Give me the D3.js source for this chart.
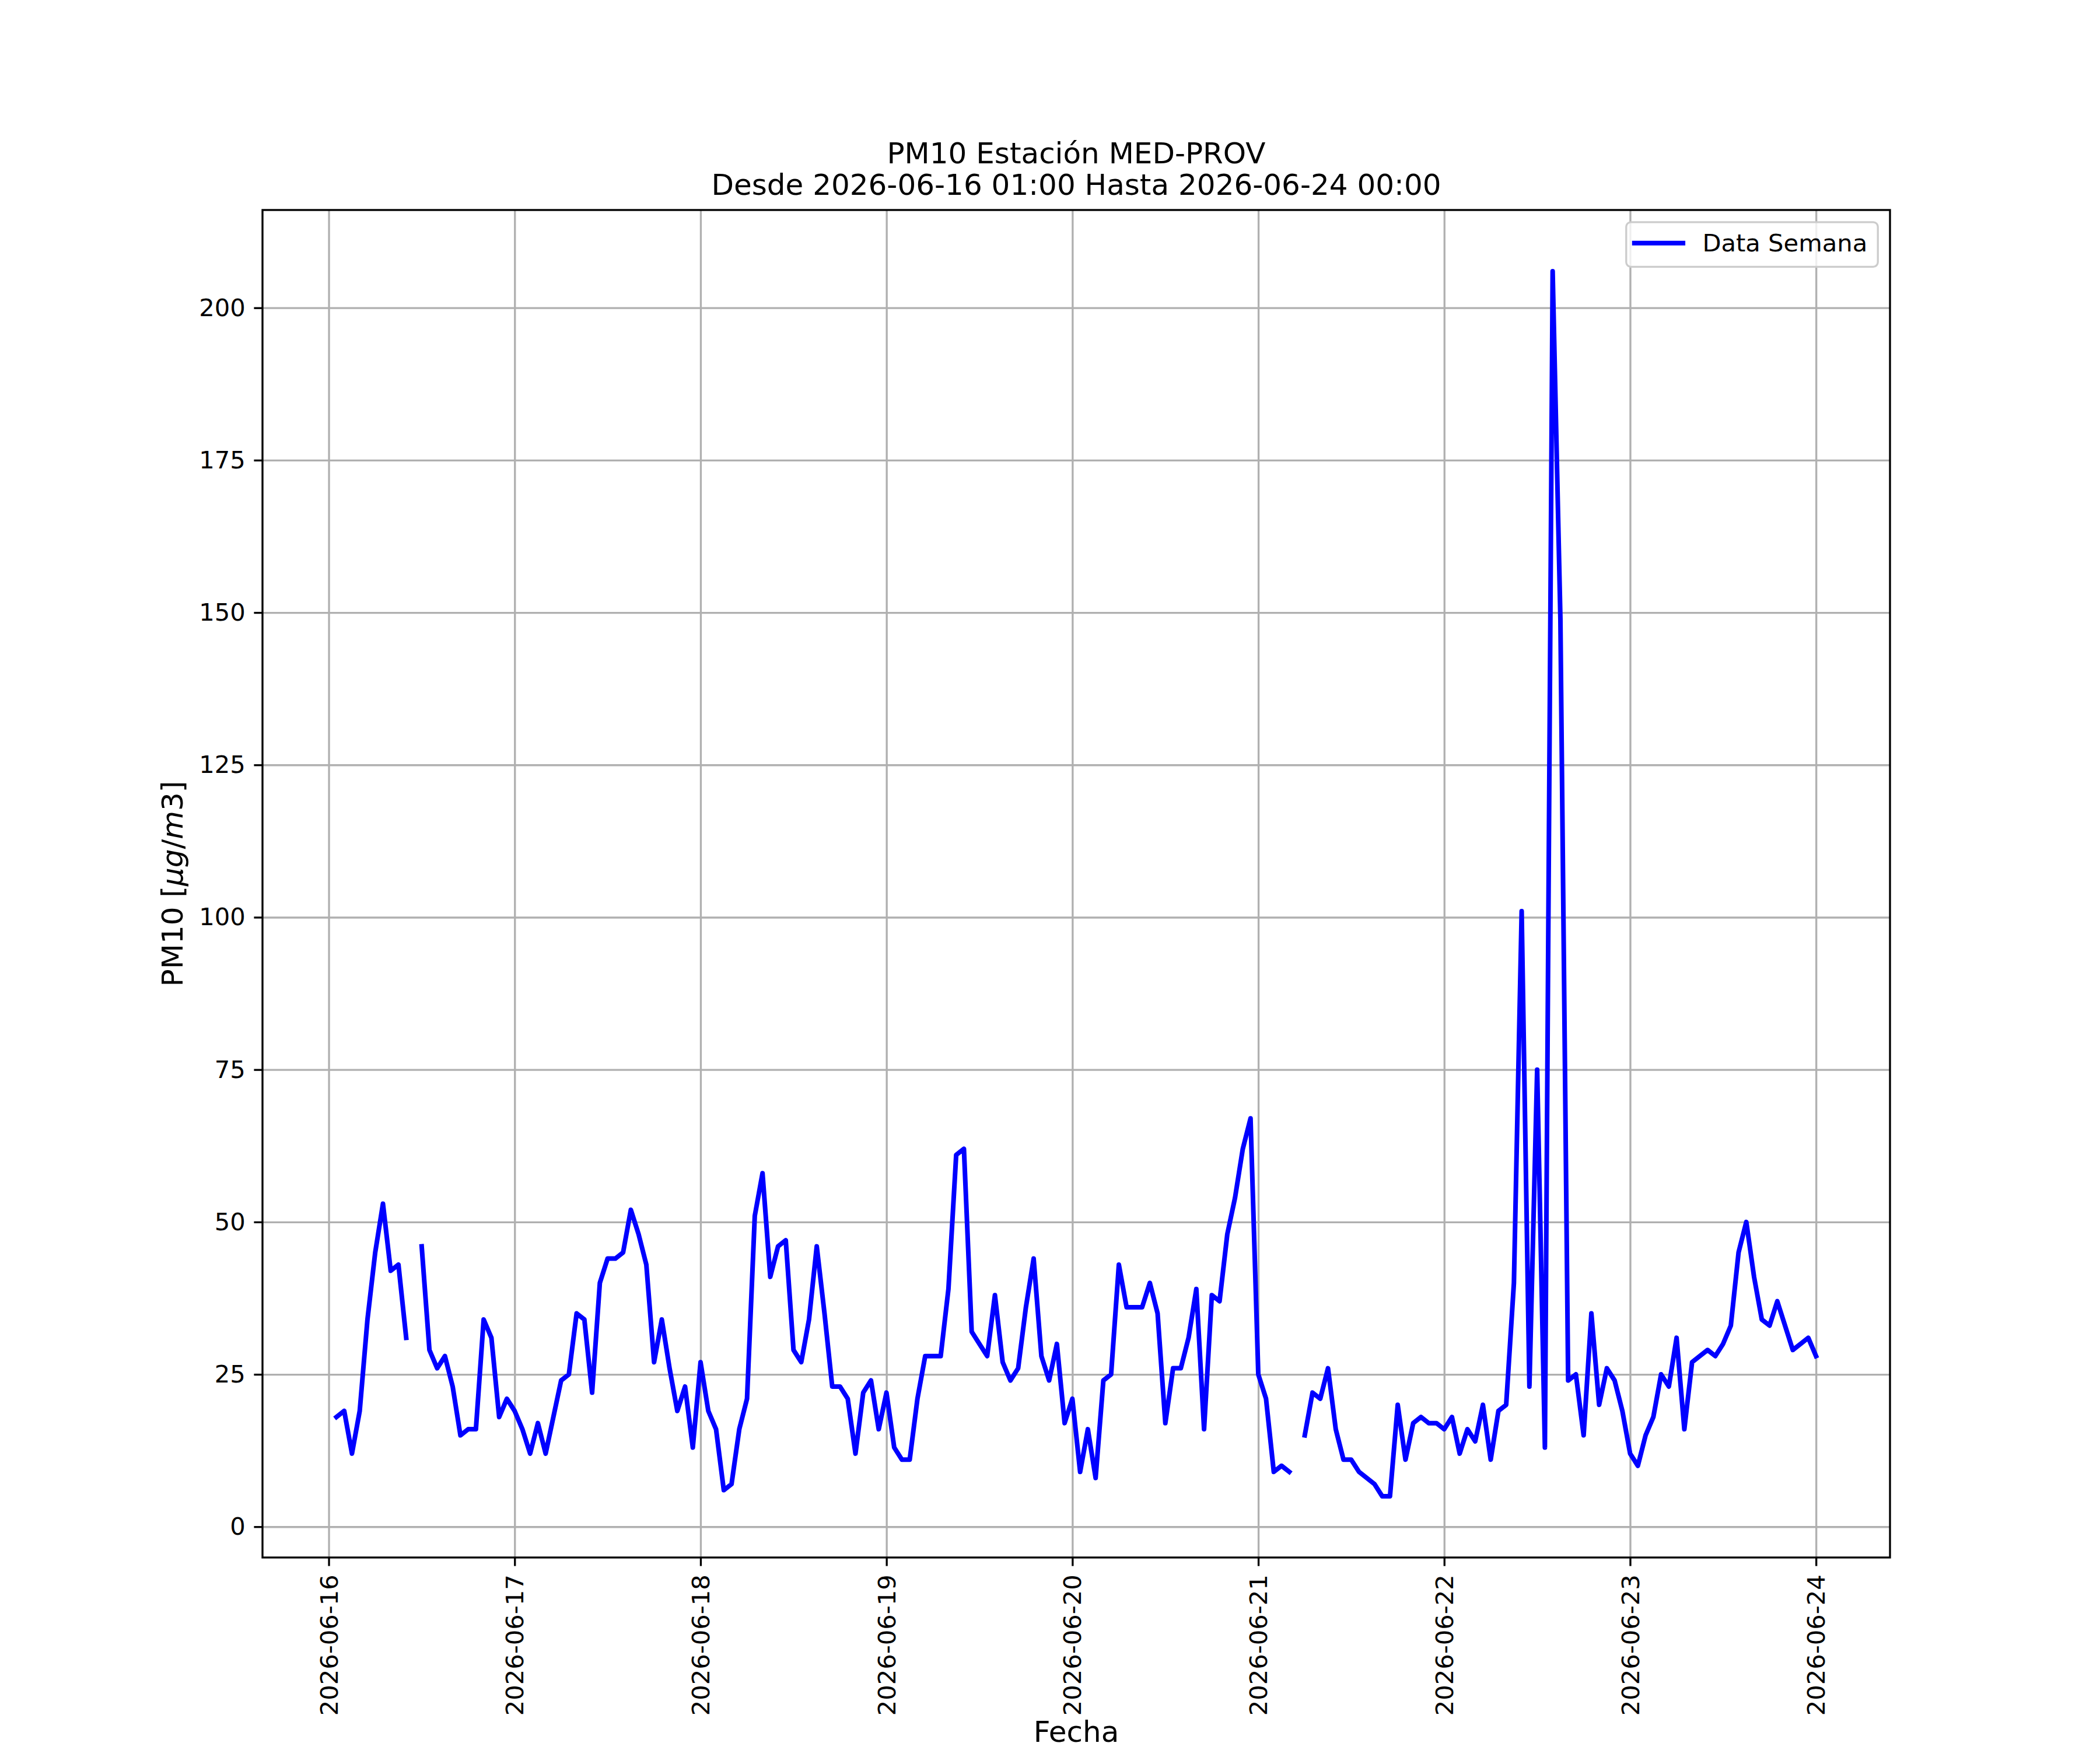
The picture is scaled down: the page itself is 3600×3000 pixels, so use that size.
<!DOCTYPE html>
<html>
<head>
<meta charset="utf-8">
<script src="https://cdn.jsdelivr.net/npm/d3@7/dist/d3.min.js"></script>
<style>
  body { margin: 0; background: #ffffff; }
  svg { display: block; font-family: "DejaVu Sans", sans-serif; }
</style>
</head>
<body>
<svg width="3600" height="3000"></svg>
<script>
const width = 3600;
const height = 3000;
const margin = {top: 360, right: 360, bottom: 330, left: 450};
const plotW = width - margin.left - margin.right;
const plotH = height - margin.top - margin.bottom;

// hourly PM10, one array per day (01:00 .. 00:00 of the next day), null = missing hour
const day16 = [18, 19, 12, 19, 34, 45, 53, 42, 43, 31, null, 46, 29, 26, 28, 23, 15, 16, 16, 34, 31, 18, 21, 19];
const day17 = [16, 12, 17, 12, 18, 24, 25, 35, 34, 22, 40, 44, 44, 45, 52, 48, 43, 27, 34, 26, 19, 23, 13, 27];
const day18 = [19, 16, 6, 7, 16, 21, 51, 58, 41, 46, 47, 29, 27, 34, 46, 35, 23, 23, 21, 12, 22, 24, 16, 22];
const day19 = [13, 11, 11, 21, 28, 28, 28, 39, 61, 62, 32, 30, 28, 38, 27, 24, 26, 36, 44, 28, 24, 30, 17, 21];
const day20 = [9, 16, 8, 24, 25, 43, 36, 36, 36, 40, 35, 17, 26, 26, 31, 39, 16, 38, 37, 48, 54, 62, 67, 25];
const day21 = [21, 9, 10, 9, null, 15, 22, 21, 26, 16, 11, 11, 9, 8, 7, 5, 5, 20, 11, 17, 18, 17, 17, 16];
const day22 = [18, 12, 16, 14, 20, 11, 19, 20, 40, 101, 23, 75, 13, 206, 149, 24, 25, 15, 35, 20, 26, 24, 19, 12];
const day23 = [10, 15, 18, 25, 23, 31, 16, 27, 28, 29, 28, 30, 33, 45, 50, 41, 34, 33, 37, 33, 29, 30, 31, 28];

const yTicks = [0, 25, 50, 75, 100, 125, 150, 175, 200];
const titleLines = ["PM10 Estación MED-PROV", "Desde 2026-06-16 01:00 Hasta 2026-06-24 00:00"];
const xLabel = "Fecha";
const seriesName = "Data Semana";

const values = [].concat(day16, day17, day18, day19, day20, day21, day22, day23);
const startTime = Date.UTC(2026, 5, 16, 1);  // first reading 2026-06-16 01:00
const data = values.map((v, i) => ({date: new Date(startTime + i * 3600 * 1000), value: v}));

const svg = d3.select("svg");

svg.append("rect")
    .attr("width", width)
    .attr("height", height)
    .attr("fill", "#ffffff");

// 5% padding on both axes, like matplotlib autoscale
const tExtent = d3.extent(data, d => d.date);
const tPad = (tExtent[1] - tExtent[0]) * 0.05;
const vExtent = d3.extent(data.filter(d => d.value !== null), d => d.value);
const vPad = (vExtent[1] - vExtent[0]) * 0.05;

const x = d3.scaleUtc()
    .domain([new Date(+tExtent[0] - tPad), new Date(+tExtent[1] + tPad)])
    .range([0, plotW]);

const y = d3.scaleLinear()
    .domain([vExtent[0] - vPad, vExtent[1] + vPad])
    .range([plotH, 0]);

const g = svg.append("g")
    .attr("transform", `translate(${margin.left},${margin.top})`);

const tickLen = 14.6;
const gridColor = "#b0b0b0";
const lineWidth = 8;

// grid lines
g.append("g")
    .attr("class", "grid-x")
    .attr("transform", `translate(0,${plotH})`)
    .call(d3.axisBottom(x).ticks(d3.utcDay.every(1)).tickSize(-plotH).tickFormat(""))
    .call(a => a.select(".domain").remove())
    .selectAll("line")
    .attr("stroke", gridColor)
    .attr("stroke-width", 3.33);

g.append("g")
    .attr("class", "grid-y")
    .call(d3.axisLeft(y).tickValues(yTicks).tickSize(-plotW).tickFormat(""))
    .call(a => a.select(".domain").remove())
    .selectAll("line")
    .attr("stroke", gridColor)
    .attr("stroke-width", 3.33);

// data line, broken where readings are missing
const line = d3.line()
    .defined(d => d.value !== null)
    .x(d => x(d.date))
    .y(d => y(d.value));

g.append("path")
    .datum(data)
    .attr("fill", "none")
    .attr("stroke", "#0000ff")
    .attr("stroke-width", lineWidth)
    .attr("stroke-linejoin", "round")
    .attr("stroke-linecap", "square")
    .attr("d", line);

// x axis
const xAxis = g.append("g")
    .attr("transform", `translate(0,${plotH})`)
    .call(d3.axisBottom(x)
        .ticks(d3.utcDay.every(1))
        .tickFormat(d3.utcFormat("%Y-%m-%d"))
        .tickSize(tickLen)
        .tickPadding(0));
xAxis.select(".domain").remove();
xAxis.selectAll("line").attr("stroke", "#000").attr("stroke-width", 3.33);
xAxis.selectAll("text")
    .attr("fill", "#000")
    .style("font-size", "41.67px")
    .style("font-family", "DejaVu Sans")
    .attr("y", 0)
    .attr("dy", "0.35em")
    .attr("text-anchor", "end")
    .attr("transform", `translate(0,${tickLen + 14.6}) rotate(-90)`);

// y axis
const yAxis = g.append("g")
    .call(d3.axisLeft(y)
        .tickValues(yTicks)
        .tickSize(tickLen)
        .tickPadding(14.6));
yAxis.select(".domain").remove();
yAxis.selectAll("line").attr("stroke", "#000").attr("stroke-width", 3.33);
yAxis.selectAll("text")
    .attr("fill", "#000")
    .style("font-size", "41.67px")
    .style("font-family", "DejaVu Sans");

// spines on top
g.append("rect")
    .attr("width", plotW)
    .attr("height", plotH)
    .attr("fill", "none")
    .attr("stroke", "#000")
    .attr("stroke-width", 3.33);

// legend, upper right
const legend = g.append("g")
    .attr("transform", `translate(${plotW - 20.8},20.8)`);
const legendText = legend.append("text")
    .attr("y", 50)
    .style("font-size", "41.67px")
    .attr("fill", "#000")
    .text(seriesName);
const textLen = legendText.node().getComputedTextLength();
const boxW = 14 + 83.3 + 33.3 + textLen + 18;
legend.insert("rect", "text")
    .attr("x", -boxW)
    .attr("y", 0)
    .attr("width", boxW)
    .attr("height", 76.5)
    .attr("rx", 8)
    .attr("fill", "#ffffff")
    .attr("fill-opacity", 0.8)
    .attr("stroke", "#cccccc")
    .attr("stroke-width", 3.33);
legend.insert("line", "text")
    .attr("x1", -boxW + 14)
    .attr("x2", -boxW + 14 + 83.3)
    .attr("y1", 36)
    .attr("y2", 36)
    .attr("stroke", "#0000ff")
    .attr("stroke-width", lineWidth)
    .attr("stroke-linecap", "square");
legendText.attr("x", -boxW + 14 + 83.3 + 33.3);

// title, two lines
svg.append("text")
    .attr("x", margin.left + plotW / 2)
    .attr("text-anchor", "middle")
    .style("font-size", "50px")
    .attr("fill", "#000")
    .selectAll("tspan")
    .data(titleLines)
    .enter()
    .append("tspan")
    .attr("x", margin.left + plotW / 2)
    .attr("y", (d, i) => 280 + i * 53.5)
    .text(d => d);

// axis labels
svg.append("text")
    .attr("x", margin.left + plotW / 2)
    .attr("y", 2986)
    .attr("text-anchor", "middle")
    .style("font-size", "50px")
    .attr("fill", "#000")
    .text(xLabel);

const yLabel = svg.append("text")
    .attr("transform", `translate(313,${margin.top + plotH / 2}) rotate(-90)`)
    .attr("text-anchor", "middle")
    .style("font-size", "50px")
    .attr("fill", "#000");
yLabel.append("tspan").text("PM10 [");
yLabel.append("tspan").style("font-style", "italic").text("μg");
yLabel.append("tspan").text("/");
yLabel.append("tspan").style("font-style", "italic").text("m");
yLabel.append("tspan").text("3]");
</script>
</body>
</html>
